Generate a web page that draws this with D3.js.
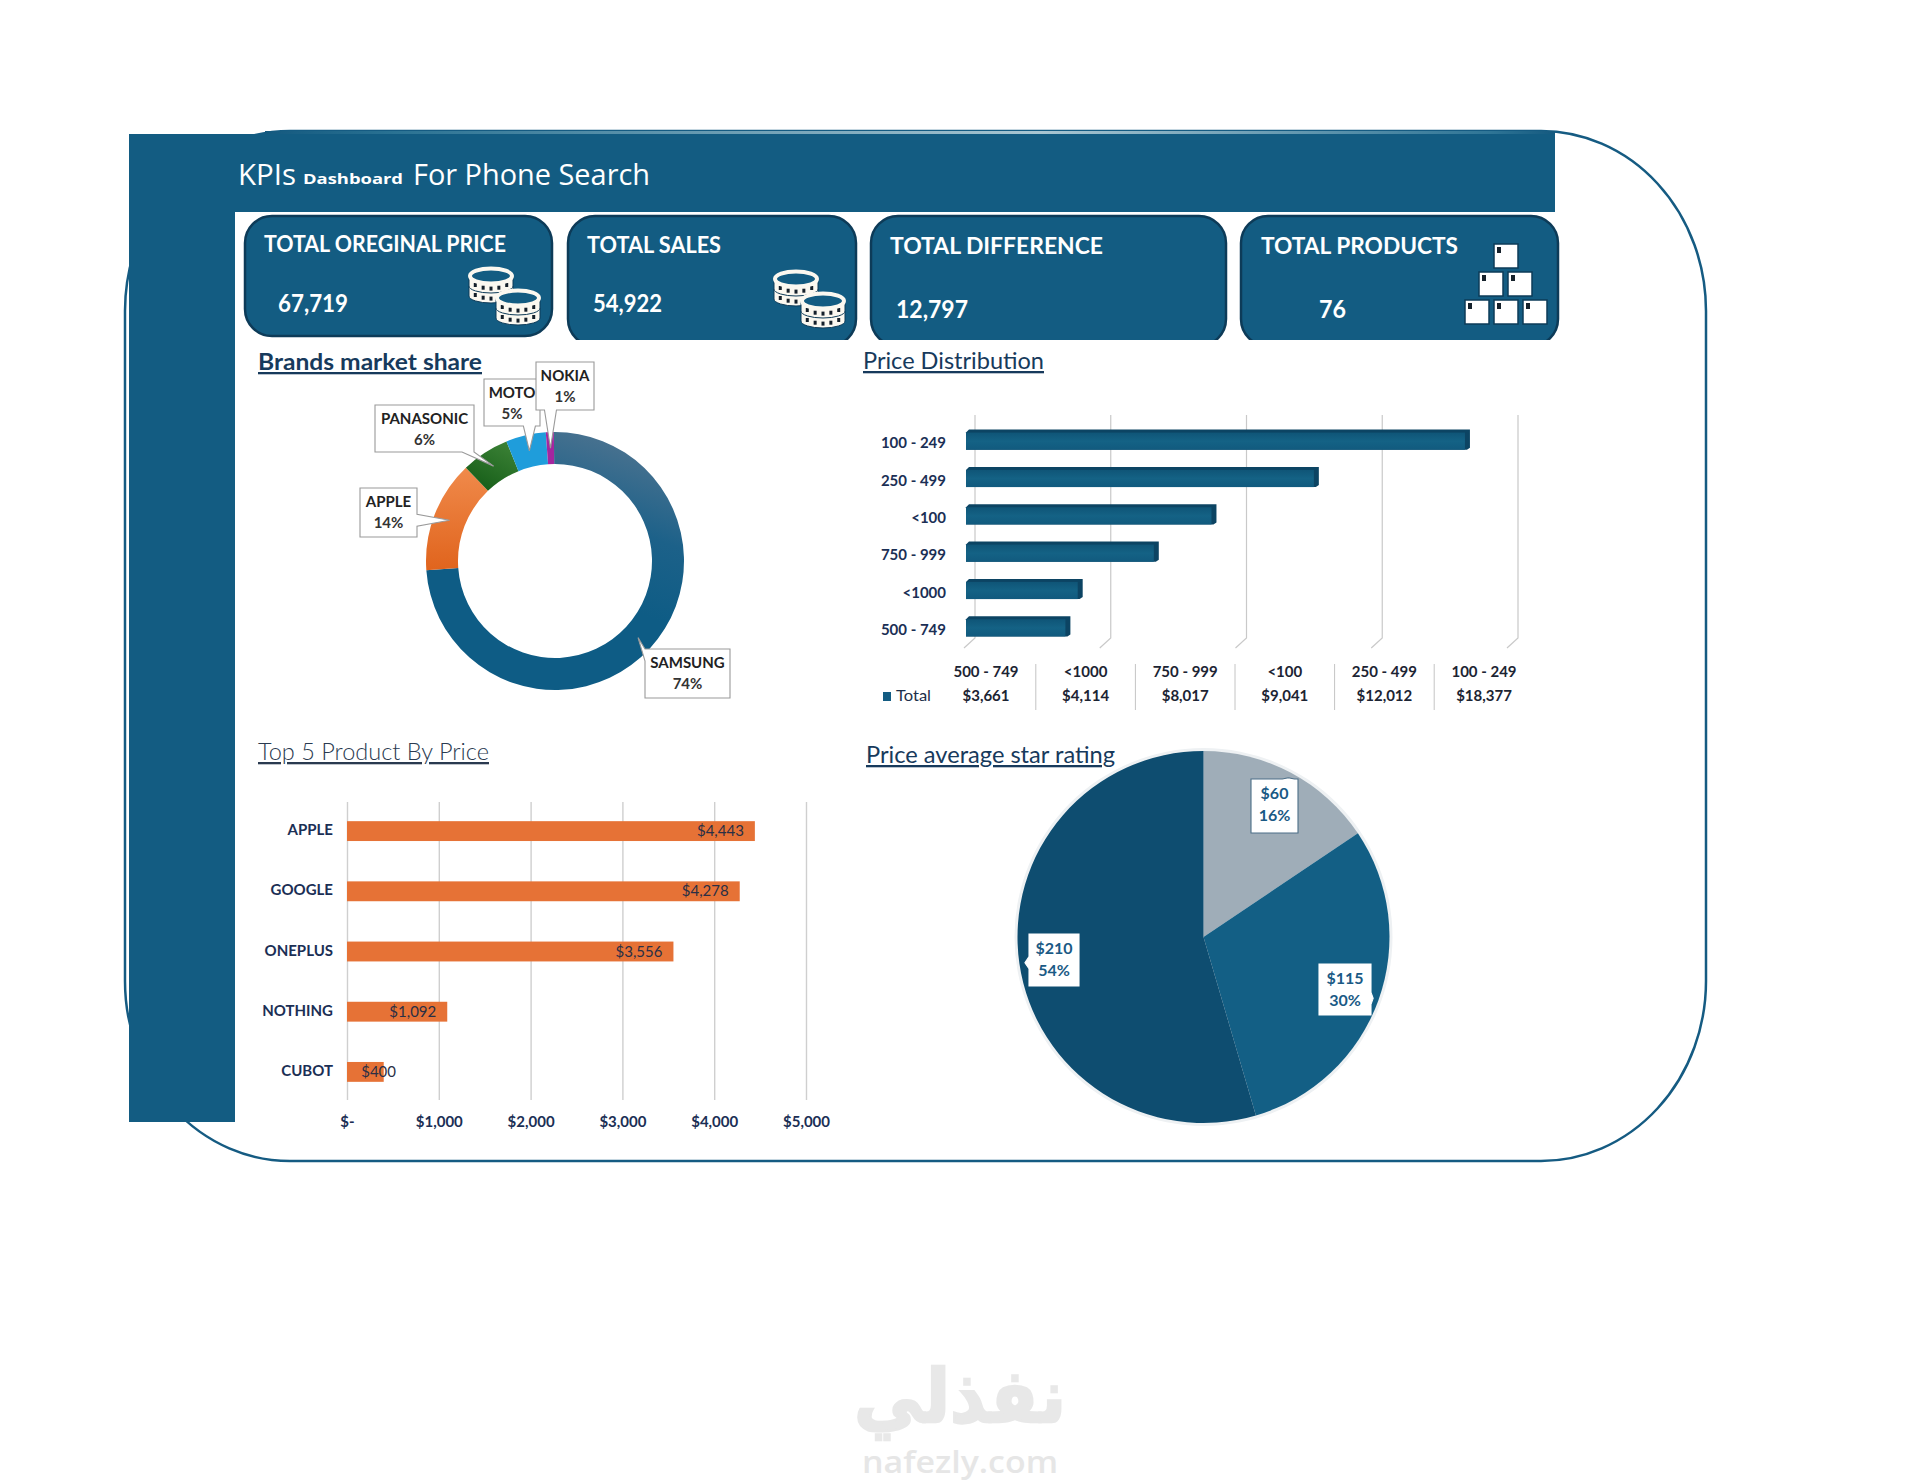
<!DOCTYPE html>
<html><head><meta charset="utf-8">
<script src="https://cdn.jsdelivr.net/npm/d3@7/dist/d3.min.js"></script>
<style>html,body{margin:0;background:#fff}svg{display:block}text{font-family:Lato,"Open Sans",sans-serif}</style>
</head><body><svg id="c" width="1920" height="1482"></svg>
<script>
// ---- data ----
const kpiTitles = ["TOTAL OREGINAL PRICE","TOTAL SALES","TOTAL DIFFERENCE","TOTAL PRODUCTS"];
const kpiValues = ["67,719","54,922","12,797","76"];
const brandNames = ["SAMSUNG","APPLE","PANASONIC","MOTO","NOKIA"];
const brandShares = [74,14,6,5,1];
const priceBandsTop = ["100 - 249","250 - 499","<100","750 - 999","<1000","500 - 749"];
const priceTotals = [18377,12812,9041,6917,4114,3661];
const tableHeads = ["500 - 749","<1000","750 - 999","<100","250 - 499","100 - 249"];
const tableValues = ["$3,661","$4,114","$8,017","$9,041","$12,012","$18,377"];
const topProducts = ["APPLE","GOOGLE","ONEPLUS","NOTHING","CUBOT"];
const topPrices = [4443,4278,3556,1092,400];
const topTicks = [0,1000,2000,3000,4000,5000];
const ratingPrices = [60,115,210];
const ratingPercents = ["16%","30%","54%"];

// ---- style & layout ----
const BLUE="#135c82", DARK="#0d3b58", INK="#1b2f55";
const brandColors=["url(#gSam)","url(#gApp)","url(#gPan)","#1f9ddb","#a4269f"];
const ratingColors=["#9fadb8","#135f85","#0e4d70"];
const svg=d3.select("#c");
const defs=svg.append("defs");
function grad(id,x1,y1,x2,y2,stops){const g=defs.append("linearGradient").attr("id",id).attr("x1",x1).attr("y1",y1).attr("x2",x2).attr("y2",y2);
 stops.forEach(s=>g.append("stop").attr("offset",s[0]).attr("stop-color",s[1]));}
grad("gSam",0.6,0,0.4,0.55,[[0,"#47718f"],[0.5,"#1c6189"],[1,"#0e5c85"]]);
grad("gApp",0.5,0,0.5,1,[[0,"#f08a4b"],[1,"#e0641d"]]);
grad("gPan",0.8,0,0.2,1,[[0,"#3c8236"],[1,"#145c17"]]);
grad("gBar",0,0,0,1,[[0,"#0f5577"],[0.5,"#146285"],[1,"#115a7e"]]);
grad("gTop",0,0,1,0,[[0,"#14597f"],[0.1,"#2a7293"],[0.6,"#a9c6d2"],[0.95,"#2f7596"],[1,"#14597f"]]);

function txt(p,s,x,y,o={}){const t=p.append("text").attr("x",x).attr("y",y).text(s)
 .attr("font-size",o.size||14).attr("font-weight",o.weight||400).attr("fill",o.fill||INK).attr("text-anchor",o.anchor||"start");
 if(o.width)t.attr("textLength",o.width).attr("lengthAdjust","spacingAndGlyphs");
 if(o.family)t.style("font-family",o.family);
 if(o.ul)t.style("text-decoration","underline");
 if(o.stroke)t.attr("stroke",o.stroke).attr("stroke-width",o.strokeWidth||1);
 return t;}

// frame + banner
svg.append("rect").attr("x",125).attr("y",131).attr("width",1581).attr("height",1030).attr("rx",165).attr("ry",180)
 .attr("fill","#fff").attr("stroke","#155b82").attr("stroke-width",2.5);
svg.append("rect").attr("x",129).attr("y",134).attr("width",1426).attr("height",78).attr("fill",BLUE);
svg.append("rect").attr("x",129).attr("y",134).attr("width",106).attr("height",988).attr("fill",BLUE);
svg.append("rect").attr("x",265).attr("y",131).attr("width",1290).attr("height",3).attr("fill","url(#gTop)");

txt(svg,"KPIs",238,185,{size:30,fill:"#fff",width:58,family:"Open Sans"});
txt(svg,"Dashboard",303,184,{size:14,weight:700,fill:"#fff",width:100,family:"Open Sans"});
txt(svg,"For Phone Search",413,185,{size:30,fill:"#fff",width:237,family:"Open Sans"});

// KPI cards
const cardBoxes=[[245,216,307,120,true],[568,216,288,124],[871,216,355,124],[1241,216,317,124]];
const titlePos=[[264,252,242],[587,253,134],[890,254,213],[1261,254,197]];
const valuePos=[[278,312,70],[593,312,69],[896,318,72],[1319,318,27]];
cardBoxes.forEach((b,i)=>{
 const cid="card"+i;
 defs.append("clipPath").attr("id",cid).append("rect").attr("x",b[0]-3).attr("y",b[1]-3).attr("width",b[2]+6).attr("height",b[3]+(b[4]?6:3));
 svg.append("rect").attr("x",b[0]).attr("y",b[1]).attr("width",b[2]).attr("height",b[4]?b[3]:b[3]+6).attr("rx",27)
  .attr("fill",BLUE).attr("stroke",DARK).attr("stroke-width",2.5).attr("clip-path",`url(#${cid})`);
 txt(svg,kpiTitles[i],titlePos[i][0],titlePos[i][1],{size:23,weight:700,fill:"#fff",width:titlePos[i][2]});
 txt(svg,kpiValues[i],valuePos[i][0],valuePos[i][1],{size:25,weight:700,fill:"#fff",width:valuePos[i][2]});
});
function stack(g,cx,top,w,layers){
 const h=10,rx=w/2;
 for(let k=layers-1;k>=0;k--){
  const y=top+8+k*h;
  g.append("path").attr("d",`M${cx-rx},${y}v${h}a${rx},7 0 0 0 ${w},0v${-h}z`).attr("fill","#fbf8f0").attr("stroke",DARK).attr("stroke-width",1);
  d3.range(-2,3).forEach(d=>g.append("rect").attr("x",cx+d*w/5.6-1.5).attr("y",y+h-1+(d*d-4)*-0.9-2).attr("width",3).attr("height",4).attr("fill","#15202b"));
 }
 g.append("ellipse").attr("cx",cx).attr("cy",top+8).attr("rx",rx-1).attr("ry",7.5).attr("fill",BLUE).attr("stroke","#fbf8f0").attr("stroke-width",4);
}
[[469,268],[774,271]].forEach(p=>{
 const g=svg.append("g").attr("transform",`translate(${p[0]},${p[1]})`);
 stack(g,22,0,44,2); stack(g,49,22,44,2);
});
// product boxes
const boxRows=[[1494,244],[1479,272],[1508,272],[1465,300],[1494,300],[1523,300]];
boxRows.forEach(p=>{
 svg.append("rect").attr("x",p[0]).attr("y",p[1]).attr("width",24).attr("height",24).attr("fill","#fff").attr("stroke",DARK).attr("stroke-width",1.5);
 svg.append("rect").attr("x",p[0]+3).attr("y",p[1]+3).attr("width",4).attr("height",6).attr("fill","#16222c");
});

// section titles
txt(svg,"Brands market share",258,370,{size:23,weight:700,fill:"#173a5c",width:224,ul:true});
txt(svg,"Price Distribution",863,369,{size:23,fill:"#173a5c",width:181,ul:true});
txt(svg,"Top 5 Product By Price",258,760,{size:23,weight:300,fill:"#2a3a50",width:231,ul:true});
txt(svg,"Price average star rating",866,763,{size:23,fill:"#173a5c",width:249,ul:true});

// callout helper
function callout(g,b,tip,side,stroke,fill){
 const [x,y,w,h]=b, d=6;
 const base=(side=="bottom"||side=="top")?Math.max(x+d,Math.min(x+w-d,tip[0])):Math.max(y+d,Math.min(y+h-d,tip[1]));
 let p=`M${x},${y}`;
 if(side=="top")p+=`H${base-d}L${tip[0]},${tip[1]}L${base+d},${y}`;
 p+=`H${x+w}`;
 if(side=="right")p+=`V${base-d}L${tip[0]},${tip[1]}L${x+w},${base+d}`;
 p+=`V${y+h}`;
 if(side=="bottom")p+=`H${base+d}L${tip[0]},${tip[1]}L${base-d},${y+h}`;
 p+=`H${x}`;
 if(side=="left")p+=`V${base+d}L${tip[0]},${tip[1]}L${x},${base-d}`;
 p+="Z";
 g.append("path").attr("d",p).attr("fill",fill||"#fff").attr("stroke",stroke).attr("stroke-width",1.1);
}

// donut
const dCx=555,dCy=561,rot=-0.5*Math.PI/180;
const donut=svg.append("g").attr("transform",`translate(${dCx},${dCy})`);
const pieGen=d3.pie().sort(null).startAngle(rot).endAngle(Math.PI*2+rot);
const donutArc=d3.arc().innerRadius(97).outerRadius(129);
const donutData=pieGen(brandShares);
donut.selectAll("path.s").data(donutData).join("path").attr("class","s").attr("d",donutArc).attr("fill",(d,i)=>brandColors[i]);
const brandBoxes=[[645,649,85,49,"left"],[360,488,57,49,"right"],[375,405,99,47,"bottom"],[484,379,56,47,"bottom"],[536,362,58,48,"bottom"]];
donutData.forEach((d,i)=>{
 const c=donutArc.centroid(d), tip=[c[0]+dCx,c[1]+dCy], b=brandBoxes[i];
 callout(svg,b.slice(0,4),tip,b[4],"#9a9a9a");
 const cx=b[0]+b[2]/2;
 txt(svg,brandNames[i],cx,b[1]+19,{size:15,weight:700,fill:"#222",anchor:"middle"});
 txt(svg,brandShares[i]+"%",cx,b[1]+40,{size:15,weight:700,fill:"#333",anchor:"middle"});
});

// price distribution (3D bar look)
const pdX=d3.scaleLinear().domain([0,20000]).range([966,1509]);
const pdY=d3.scaleBand().domain(priceBandsTop).range([422.5,646.5]).paddingInner(0.54).paddingOuter(0.27);
const pd=svg.append("g");
const off=9;
pdX.ticks(4).forEach(t=>{
 const x=pdX(t);
 pd.append("path").attr("d",`M${x+off},415V638L${x-2},648`).attr("fill","none").attr("stroke","#c9c9c9").attr("stroke-width",1.2);
});
priceBandsTop.forEach((c,i)=>{
 const x0=pdX(0),x1=pdX(priceTotals[i]),y=pdY(c),h=pdY.bandwidth();
 pd.append("path").attr("d",`M${x0},${y}l3,-3H${x1+5}V${y+h-2}l-3,2H${x0}Z`).attr("fill","#0c4463");
 pd.append("rect").attr("x",x0).attr("y",y).attr("width",x1-x0).attr("height",h).attr("fill","url(#gBar)");
 txt(pd,c,946,y+h/2+7,{size:15,weight:700,anchor:"end"});
});
// data table
const colW=99.6, col0=986;
tableHeads.forEach((h,i)=>{
 const cx=col0+i*colW;
 txt(pd,h,cx,677,{size:15,weight:700,fill:"#1c2433",anchor:"middle"});
 txt(pd,tableValues[i],cx,701,{size:15,weight:700,fill:"#1c2433",anchor:"middle"});
 if(i>0)pd.append("line").attr("x1",cx-colW/2).attr("x2",cx-colW/2).attr("y1",664).attr("y2",710).attr("stroke","#c4c4c4");
});
pd.append("rect").attr("x",883).attr("y",692).attr("width",8).attr("height",9).attr("fill",BLUE);
txt(pd,"Total",896,701,{size:15,weight:400,fill:"#1c2f4a",width:35});

// top 5
const tX=d3.scaleLinear().domain([0,5000]).range([347,806]);
const tY=d3.scaleBand().domain(topProducts).range([801,1102]).paddingInner(0.67).paddingOuter(0.335);
const top5=svg.append("g");
const ax=top5.append("g").attr("transform","translate(0,1100)").call(d3.axisBottom(tX).tickValues(topTicks).tickSize(-298).tickPadding(16).tickFormat(v=>v===0?"$-":d3.format("$,")(v)));
ax.select(".domain").remove();
ax.selectAll(".tick line").attr("stroke","#cfcfcf").attr("stroke-width",1.4);
ax.selectAll(".tick text").attr("font-size",15).attr("font-weight",700).attr("fill",INK).style("font-family","Lato");
topProducts.forEach((p,i)=>{
 const y=tY(p),h=tY.bandwidth(),x1=tX(topPrices[i]);
 top5.append("rect").attr("x",tX(0)).attr("y",y).attr("width",x1-tX(0)).attr("height",h).attr("fill","#e67236");
 txt(top5,p,333,y+h/2+4,{size:15,weight:700,anchor:"end"});
 const small=x1-tX(0)<100;
 txt(top5,d3.format("$,")(topPrices[i]),small?tX(0)+49:x1-11,y+h/2+5,{size:15,fill:"#2a2f45",anchor:"end"});
});

// pie
const pieCx=1203.5, pieCy=937, pieR=186;
const pieG=svg.append("g").attr("transform",`translate(${pieCx},${pieCy})`);
pieG.append("circle").attr("r",pieR+3).attr("fill","#eef1f3");
const pieArc=d3.arc().innerRadius(0).outerRadius(pieR);
const tipArc=d3.arc().innerRadius(pieR*0.97).outerRadius(pieR*0.97);
const ratingData=d3.pie().sort(null)(ratingPrices);
pieG.selectAll("path").data(ratingData).join("path").attr("d",pieArc).attr("fill",(d,i)=>ratingColors[i]);
const ratingBoxes=[[1251,779,47,54,"top"],[1319,964,52,51,"right"],[1029,934,50,52,"left"]];
ratingData.forEach((d,i)=>{
 const c=tipArc.centroid(d),b=ratingBoxes[i];
 callout(svg,b.slice(0,4),[c[0]+pieCx,c[1]+pieCy],b[4],i==0?"#4c6f88":"#fff");
 const cx=b[0]+b[2]/2;
 txt(svg,"$"+ratingPrices[i],cx,b[1]+20,{size:16,weight:700,fill:"#1a5a85",anchor:"middle"});
 txt(svg,ratingPercents[i],cx,b[1]+42,{size:16,weight:700,fill:"#1a5a85",anchor:"middle"});
});

// watermark
txt(svg,"نفذلي",960,1422,{size:74,weight:700,fill:"#e8e8e8",anchor:"middle",family:"DejaVu Sans",width:212,stroke:"#e8e8e8",strokeWidth:2.5});
txt(svg,"nafezly.com",960,1473,{size:30,weight:600,fill:"#e6e6e6",anchor:"middle",family:"Open Sans",width:196});
</script></body></html>
